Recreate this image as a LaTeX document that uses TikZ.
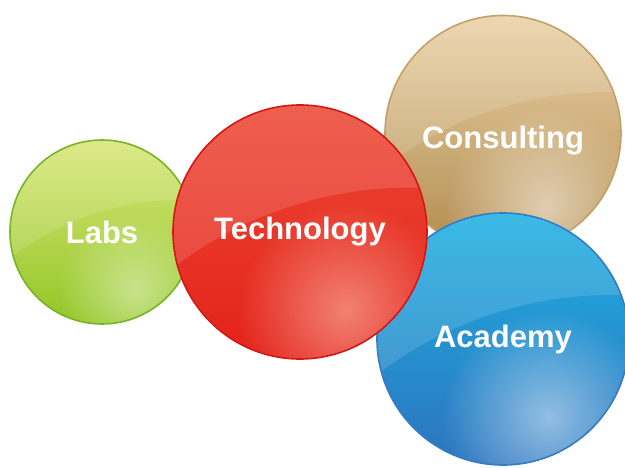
\documentclass[tikz,border=0pt]{standalone}
\usepackage{fontspec}
\newfontfamily\bubblefont{Liberation Sans}
\usetikzlibrary{calc,fadings}
\tikzfading[name=glowfade, inner color=transparent!0, outer color=transparent!100]

\definecolor{labsedge}{RGB}{120,180,40}
\definecolor{labstop}{RGB}{216,230,120}
\definecolor{labsbot}{RGB}{146,198,38}
\definecolor{labsglow}{RGB}{214,236,170}
\definecolor{techedge}{RGB}{212,24,22}
\definecolor{techtop}{RGB}{236,72,52}
\definecolor{techbot}{RGB}{228,34,26}
\definecolor{techglow}{RGB}{246,160,144}
\definecolor{consedge}{RGB}{196,160,104}
\definecolor{constop}{RGB}{234,210,166}
\definecolor{consbot}{RGB}{178,140,80}
\definecolor{consglow}{RGB}{236,224,204}
\definecolor{acadedge}{RGB}{54,124,196}
\definecolor{acadtop}{RGB}{30,176,226}
\definecolor{acadbot}{RGB}{44,116,190}
\definecolor{acadglow}{RGB}{182,212,238}

\begin{document}
\begin{tikzpicture}[x=1pt,y=1pt,
    bubble/.style n args={5}{circle, minimum size=2*#1, inner sep=0pt,
        line width=1.6pt, draw=#2, top color=#3, bottom color=#4,
        text=white, font=\bubblefont\bfseries\fontsize{31}{31}\selectfont,
        path picture={
            \fill[white, opacity=.13, even odd rule] (path picture bounding box.center) circle (1.1*#1)
                ($(path picture bounding box.center)+(0.87*#1,-2.73*#1)$) circle (3.08*#1); % upper gloss
            \fill[#5, opacity=.75, path fading=glowfade]
                ($(path picture bounding box.center)+(0.36*#1,-0.62*#1)$) circle (0.85*#1); % lower glow
            }}
    ]
        \useasboundingbox (0,0) rectangle (625,467);
        % Back
        \node[bubble={118pt}{consedge}{constop}{consbot}{consglow}, text height=37.5pt] (consulting) at (503,333.5) {Consulting};
        \node[bubble={126pt}{acadedge}{acadtop}{acadbot}{acadglow}] (academy) at (503,128) {Academy};
        % Front
        \node[bubble={92pt}{labsedge}{labstop}{labsbot}{labsglow}] (labs) at (102,235) {Labs};
        \node[bubble={127pt}{techedge}{techtop}{techbot}{techglow}] (technology) at (300,235) {Technology};
\end{tikzpicture}
\end{document}
